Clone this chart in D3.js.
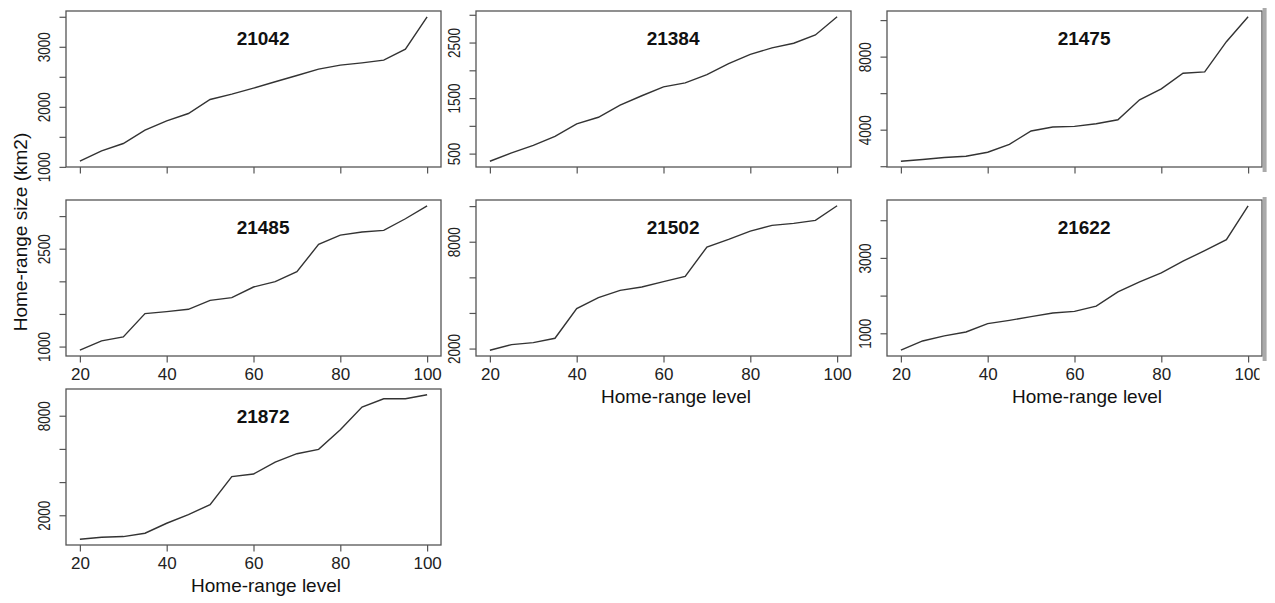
<!DOCTYPE html>
<html>
<head>
<meta charset="utf-8">
<script src="https://cdn.jsdelivr.net/npm/d3@7"></script>
<style>
  body { margin: 0; background: #fff; }
  svg { display: block; font-family: "Liberation Sans", Arial, sans-serif; }
</style>
</head>
<body>
<svg id="chart" width="1275" height="603"></svg>
<script>
// home-range size per animal, one value per home-range level
const levels = [20, 25, 30, 35, 40, 45, 50, 55, 60, 65, 70, 75, 80, 85, 90, 95, 100];
const panelIds = ["21042", "21384", "21475", "21485", "21502", "21622", "21872"];

const size21042 = [1094, 1267, 1389, 1611, 1767, 1889, 2122, 2211, 2311, 2417, 2522, 2628, 2694, 2733, 2778, 2961, 3500];
const size21384 = [363, 512, 649, 810, 1036, 1155, 1375, 1542, 1702, 1774, 1923, 2119, 2286, 2405, 2488, 2637, 2964];
const size21475 = [2273, 2364, 2473, 2545, 2764, 3200, 3927, 4145, 4182, 4327, 4545, 5636, 6236, 7091, 7164, 8818, 10182];
const size21485 = [944, 1087, 1148, 1505, 1536, 1571, 1709, 1750, 1913, 1995, 2148, 2566, 2709, 2755, 2781, 2959, 3158];
const size21502 = [1907, 2224, 2336, 2579, 4243, 4860, 5271, 5458, 5757, 6056, 7701, 8131, 8598, 8916, 9028, 9196, 10019];
const size21622 = [551, 797, 930, 1035, 1256, 1344, 1441, 1537, 1581, 1722, 2101, 2366, 2604, 2912, 3194, 3485, 4383];
const size21872 = [556, 676, 716, 917, 1519, 2040, 2642, 4327, 4487, 5209, 5711, 5972, 7156, 8520, 9022, 9022, 9263];

const sizes = [size21042, size21384, size21475, size21485, size21502, size21622, size21872];

// tick marks and the labels R kept on each y axis
const yTicks = [
  [1000, 1500, 2000, 2500, 3000, 3500],
  [500, 1000, 1500, 2000, 2500, 3000],
  [2000, 4000, 6000, 8000, 10000],
  [1000, 1500, 2000, 2500, 3000],
  [2000, 4000, 6000, 8000, 10000],
  [1000, 2000, 3000, 4000],
  [2000, 4000, 6000, 8000]
];
const yLabels = [
  [1000, 2000, 3000],
  [500, 1500, 2500],
  [4000, 8000],
  [1000, 2500],
  [2000, 8000],
  [1000, 3000],
  [2000, 8000]
];
const xTicks = [20, 40, 60, 80, 100];

const xTitle = "Home-range level";
const yTitle = "Home-range size (km2)";

// layout
const colLeft = [66, 476, 887];
const rowTop = [11, 200, 389];
const boxW = 375, boxH = 156;
const showXLabels = [false, false, false, true, true, true, true];
const showXTitle = [false, false, false, false, true, true, true];

const svg = d3.select("#chart");

// R style axis limits: data range plus 4% on each side
function rRange(ext) {
  const pad = (ext[1] - ext[0]) * 0.04;
  return [ext[0] - pad, ext[1] + pad];
}

panelIds.forEach((id, i) => {
  const col = i % 3, row = Math.floor(i / 3);
  const left = colLeft[col], top = rowTop[row];
  const data = levels.map((lv, j) => ({ x: lv, y: sizes[i][j] }));

  const x = d3.scaleLinear().domain(rRange(d3.extent(levels))).range([0, boxW]);
  const y = d3.scaleLinear().domain(rRange(d3.extent(sizes[i]))).range([boxH, 0]);

  const g = svg.append("g").attr("transform", `translate(${left},${top})`);

  // x axis
  const xa = g.append("g")
    .attr("transform", `translate(0,${boxH})`)
    .call(d3.axisBottom(x).tickValues(xTicks).tickSize(6.5).tickPadding(5)
      .tickFormat(d => showXLabels[i] ? d : ""));
  xa.select(".domain").remove();
  xa.selectAll("line").attr("stroke", "#555").attr("stroke-width", 1.2);
  xa.selectAll("text").attr("font-size", 17).attr("fill", "#222")
    .attr("dy", 0).attr("y", 23.5).attr("font-family", "Liberation Sans, Arial, sans-serif");

  // y axis, labels parallel to the axis (glyphs a bit wide, as in the source image)
  const labelSet = new Set(yLabels[i]);
  const ya = g.append("g")
    .call(d3.axisLeft(y).tickValues(yTicks[i]).tickSize(6.5)
      .tickFormat(d => labelSet.has(d) ? d : ""));
  ya.select(".domain").remove();
  ya.selectAll("line").attr("stroke", "#555").attr("stroke-width", 1.2);
  ya.selectAll("text")
    .attr("font-size", 13.5).attr("fill", "#222")
    .attr("font-family", "Liberation Sans, Arial, sans-serif")
    .attr("text-anchor", "middle")
    .attr("x", 0).attr("dy", 0).attr("y", 0)
    .attr("transform", "translate(-16,0) rotate(-90) scale(1,1.25)");

  // the series
  g.append("path")
    .datum(data)
    .attr("fill", "none")
    .attr("stroke", "#333")
    .attr("stroke-width", 1.4)
    .attr("d", d3.line().x(d => x(d.x)).y(d => y(d.y)));

  // box
  g.append("rect")
    .attr("width", boxW).attr("height", boxH)
    .attr("fill", "none").attr("stroke", "#555").attr("stroke-width", 1.3);

  // panel title
  g.append("text")
    .attr("x", x(62.2)).attr("y", 33.5)
    .attr("text-anchor", "middle")
    .attr("font-size", 19).attr("font-weight", "bold").attr("fill", "#111")
    .text(id);

  if (showXTitle[i]) {
    g.append("text")
      .attr("x", boxW / 2 + 12.5).attr("y", boxH + 47)
      .attr("text-anchor", "middle")
      .attr("font-size", 19).attr("fill", "#111")
      .text(xTitle);
  }
});

// the source image is cropped at the right: last label cut, grey strip along the edge
svg.append("rect")
  .attr("x", 1259.5).attr("y", 362).attr("width", 16).attr("height", 34)
  .attr("fill", "#fff");
rowTop.slice(0, 2).forEach(t => {
  svg.append("rect")
    .attr("x", colLeft[2] + boxW + 0.6).attr("y", t - 3)
    .attr("width", 4).attr("height", boxH + 8)
    .attr("fill", "#aaa");
});

svg.append("text")
  .attr("transform", "translate(26.5,232) rotate(-90)")
  .attr("text-anchor", "middle")
  .attr("font-size", 19).attr("fill", "#111")
  .text(yTitle);
</script>
</body>
</html>
